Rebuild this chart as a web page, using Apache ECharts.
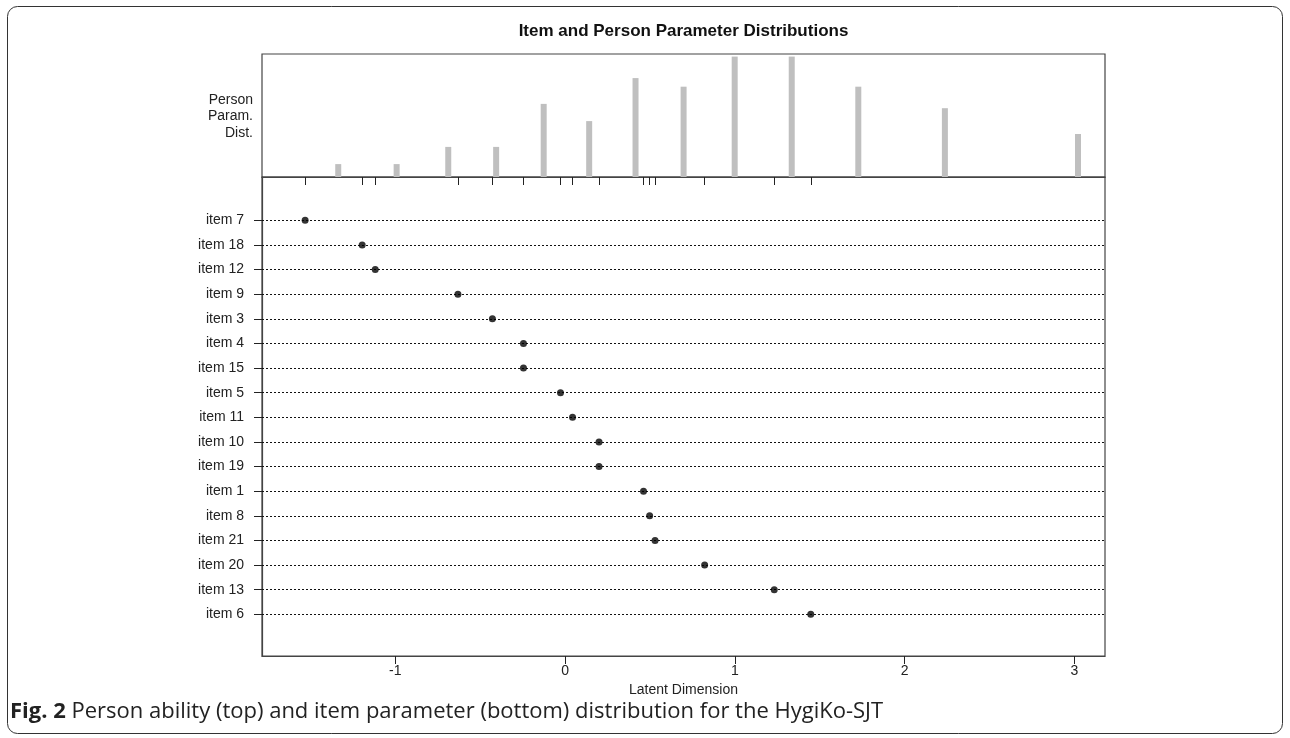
<!DOCTYPE html>
<html><head><meta charset="utf-8">
<script src="https://cdn.jsdelivr.net/npm/echarts@6/dist/echarts.min.js"></script>
<style>html,body{margin:0;padding:0;background:#fff}#c{width:1290px;height:738px}</style>
</head><body><div id="c"></div><script>
// Person parameter distribution (top panel)
const personLocations = [-1.336, -0.992, -0.688, -0.406, -0.126, 0.142, 0.415, 0.698, 0.999, 1.335, 1.727, 2.237, 3.021];
const personCounts    = [3, 3, 7, 7, 17, 13, 23, 21, 28, 28, 21, 16, 10];
// Item parameters (bottom panel), top to bottom
const itemNames  = ['item 7','item 18','item 12','item 9','item 3','item 4','item 15','item 5','item 11','item 10','item 19','item 1','item 8','item 21','item 20','item 13','item 6'];
const itemParams = [-1.531, -1.195, -1.118, -0.631, -0.428, -0.245, -0.245, -0.027, 0.044, 0.200, 0.200, 0.462, 0.498, 0.530, 0.822, 1.232, 1.447];
const xTicks = [-1, 0, 1, 2, 3];
const titleText = 'Item and Person Parameter Distributions';
const xName = 'Latent Dimension';
const personLabel = 'Person\nParam.\nDist.';
const captionBold = 'Fig. 2';
const captionText = ' Person ability (top) and item parameter (bottom) distribution for the HygiKo-SJT';

const rows = itemNames.map((_, i) => i + 1);
const XMIN = -1.785, XMAX = 3.18;
const txt = '#222';
const font = 'Liberation Sans, Arial, sans-serif';

const chart = echarts.init(document.getElementById('c'), null, {renderer: 'canvas'});
chart.setOption({
  animation: false,
  backgroundColor: '#fff',
  textStyle: {fontFamily: font},
  grid: [
    {left: 262, top: 54, width: 843, height: 123, show: true, borderColor: '#444', borderWidth: 1.2, backgroundColor: 'transparent'},
    {left: 262, top: 177, width: 843, height: 479, show: true, borderColor: '#444', borderWidth: 1.2, backgroundColor: 'transparent'}
  ],
  xAxis: [
    {gridIndex: 0, type: 'value', min: XMIN, max: XMAX, position: 'bottom',
     axisLine: {show: true, onZero: false, lineStyle: {color: '#444', width: 1.2}},
     axisTick: {show: true, inside: false, length: 8, customValues: itemParams, lineStyle: {color: '#222', width: 1}},
     axisLabel: {show: false}, splitLine: {show: false}},
    {gridIndex: 1, type: 'value', min: XMIN, max: XMAX, position: 'bottom',
     axisLine: {show: true, onZero: false, lineStyle: {color: '#444', width: 1.2}},
     axisTick: {show: true, inside: false, length: 8, customValues: xTicks, lineStyle: {color: '#222', width: 1}},
     axisLabel: {show: true, customValues: xTicks, margin: 8, color: txt, fontSize: 14, fontFamily: font},
     splitLine: {show: false},
     name: xName, nameLocation: 'middle', nameGap: 27,
     nameTextStyle: {color: txt, fontSize: 14, fontFamily: font}}
  ],
  yAxis: [
    {gridIndex: 0, type: 'value', min: 0, max: 28.6, show: false},
    {gridIndex: 1, type: 'value', inverse: true, min: -0.757, max: 18.69,
     axisLine: {show: true, onZero: false, lineStyle: {color: '#444', width: 1.2}},
     axisTick: {show: true, inside: false, length: 8, customValues: rows, lineStyle: {color: '#222', width: 1}},
     axisLabel: {show: true, customValues: rows, margin: 18, color: txt, fontSize: 14, fontFamily: font,
                 formatter: v => itemNames[Math.round(v) - 1] || ''},
     splitLine: {show: false}}
  ],
  series: [
    {type: 'bar', xAxisIndex: 0, yAxisIndex: 0, barWidth: 6,
     itemStyle: {color: '#bfbfbf'},
     data: personLocations.map((x, i) => [x, personCounts[i]])},
    {type: 'scatter', xAxisIndex: 1, yAxisIndex: 1, symbolSize: 0, data: [], z: 1,
     markLine: {silent: true, symbol: ['none', 'none'], label: {show: false},
                lineStyle: {color: '#111', width: 1, type: [2, 2]},
                emphasis: {disabled: true},
                data: rows.map(r => ({yAxis: r}))}},
    {type: 'scatter', xAxisIndex: 1, yAxisIndex: 1, symbol: 'circle', symbolSize: 7, z: 5,
     itemStyle: {color: '#000'},
     data: itemParams.map((x, i) => [x, i + 1])}
  ],
  graphic: [
    {type: 'rect', shape: {x: 7.5, y: 6.5, width: 1275, height: 727, r: 10},
     style: {fill: 'none', stroke: '#333', lineWidth: 1}, z: -1},
    {type: 'text', x: 683.5, y: 31, style: {text: titleText, fill: '#111', font: 'bold 17px Liberation Sans, Arial, sans-serif', textAlign: 'center', textVerticalAlign: 'middle'}},
    {type: 'text', x: 253, y: 116.5, style: {text: personLabel, fill: txt, font: '14px Liberation Sans, Arial, sans-serif', textAlign: 'right', textVerticalAlign: 'middle', lineHeight: 16.5}},
    {type: 'text', x: 10, y: 712, style: {
      text: '{b|' + captionBold + '}' + captionText,
      textVerticalAlign: 'middle', fill: '#222',
      font: '22px Open Sans, Noto Sans, sans-serif',
      rich: {b: {fontWeight: 'bold', fontSize: 22, fontFamily: 'Open Sans, Noto Sans, sans-serif', fill: '#222'}}
    }}
  ]
});
</script></body></html>
